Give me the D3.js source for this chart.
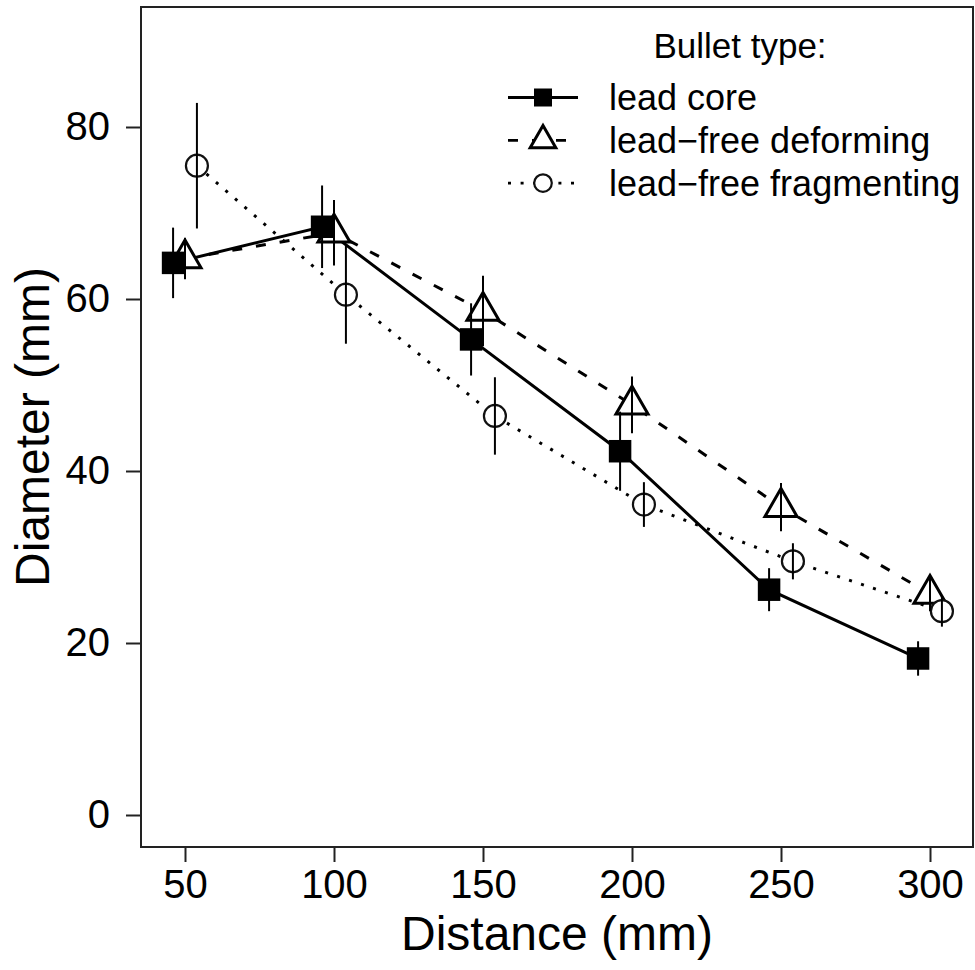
<!DOCTYPE html>
<html>
<head>
<meta charset="utf-8">
<script src="https://cdn.jsdelivr.net/npm/d3@7"></script>
<style>
  body { margin: 0; background: #fff; }
  svg { display: block; font-family: "Liberation Sans", Arial, sans-serif; }
</style>
</head>
<body>
<div id="chart"></div>
<script>
// data: mean diameter and error (half length of bar)
const distance = [50, 100, 150, 200, 250, 300];
const yTicks = [0, 20, 40, 60, 80];

const leadCore = [64.2, 68.4, 55.3, 42.3, 26.2, 18.2];
const leadCoreErr = [4.1, 4.8, 4.2, 4.6, 2.5, 2.0];

const deforming = [64.7, 67.7, 58.6, 47.7, 35.8, 25.7];
const deformingErr = [2.4, 3.8, 4.1, 3.3, 2.8, 2.0];

const fragmenting = [75.5, 60.5, 46.4, 36.1, 29.5, 23.7];
const fragmentingErr = [7.3, 5.7, 4.5, 2.6, 2.1, 1.8];

const seriesNames = ["lead core", "lead\u2212free deforming", "lead\u2212free fragmenting"];
const dodge = [-4, 0, 4];   // small horizontal offset so the groups don't overlap

(function () {
    const width = 975, height = 970;
    const box = { left: 141, right: 973, top: 7, bottom: 847 };

    const svg = d3.select("#chart").append("svg")
        .attr("width", width)
        .attr("height", height);

    // scales
    const x = d3.scaleLinear().domain([50, 300]).range([185, 930]);
    const y = d3.scaleLinear().domain([0, 80]).range([815, 127]);

    const series = [
        { name: seriesNames[0], values: leadCore, err: leadCoreErr, shape: "square", dash: null },
        { name: seriesNames[1], values: deforming, err: deformingErr, shape: "triangle", dash: "10,14" },
        { name: seriesNames[2], values: fragmenting, err: fragmentingErr, shape: "circle", dash: "3,9.6" }
    ];
    series.forEach((s, k) => {
        s.points = distance.map((d, i) => ({ x: d + dodge[k], v: s.values[i], e: s.err[i] }));
    });

    // triangle like R pch 2, centred on the point
    function triPath(cx, cy, r) {
        return `M${cx},${cy - 1.555 * r}L${cx + 1.347 * r},${cy + 0.778 * r}L${cx - 1.347 * r},${cy + 0.778 * r}Z`;
    }

    function drawMarker(g, shape, cx, cy, scale) {
        if (shape === "square") {
            const s = 22.5 * scale;
            g.append("rect").attr("x", cx - s / 2).attr("y", cy - s / 2)
                .attr("width", s).attr("height", s).attr("fill", "#000");
        } else if (shape === "triangle") {
            g.append("path").attr("d", triPath(cx, cy, 11.9 * scale))
                .attr("fill", "#fff").attr("stroke", "#000").attr("stroke-width", 3)
                .attr("stroke-linejoin", "miter");
        } else {
            g.append("circle").attr("cx", cx).attr("cy", cy).attr("r", 11 * scale)
                .attr("fill", "#fff").attr("stroke", "#111").attr("stroke-width", 2.2);
        }
    }

    // lines
    const line = d3.line().x(d => x(d.x)).y(d => y(d.v));
    svg.append("g").selectAll("path")
        .data(series)
        .enter().append("path")
        .attr("d", d => line(d.points))
        .attr("fill", "none")
        .attr("stroke", "#000")
        .attr("stroke-width", 3)
        .attr("stroke-dasharray", d => d.dash);

    // markers: triangles, then circles, then squares on top
    const markerG = svg.append("g");
    [1, 2, 0].forEach(k => {
        series[k].points.forEach(p => drawMarker(markerG, series[k].shape, x(p.x), y(p.v), 1));
    });

    // error bars
    const errG = svg.append("g");
    series.forEach(s => {
        errG.selectAll(null)
            .data(s.points)
            .enter().append("line")
            .attr("x1", d => x(d.x)).attr("x2", d => x(d.x))
            .attr("y1", d => y(d.v - d.e)).attr("y2", d => y(d.v + d.e))
            .attr("stroke", "#000")
            .attr("stroke-width", 2);
    });

    // box
    svg.append("rect")
        .attr("x", box.left).attr("y", box.top)
        .attr("width", box.right - box.left).attr("height", box.bottom - box.top)
        .attr("fill", "none").attr("stroke", "#222").attr("stroke-width", 2);

    // axes
    const xAxis = svg.append("g")
        .attr("transform", `translate(0,${box.bottom})`)
        .call(d3.axisBottom(x).tickValues(distance).tickSize(15).tickSizeOuter(0).tickPadding(8));
    const yAxis = svg.append("g")
        .attr("transform", `translate(${box.left},0)`)
        .call(d3.axisLeft(y).tickValues(yTicks).tickSize(15).tickSizeOuter(0).tickPadding(16));

    [xAxis, yAxis].forEach(a => {
        a.select(".domain").remove();
        a.selectAll(".tick line").attr("stroke", "#222").attr("stroke-width", 2);
        a.selectAll(".tick text")
            .attr("fill", "#000")
            .style("font-size", "40px")
            .style("font-family", "'Liberation Sans', Arial, sans-serif");
    });

    // axis titles
    svg.append("text")
        .attr("x", (box.left + box.right) / 2)
        .attr("y", 950)
        .attr("text-anchor", "middle")
        .style("font-size", "48px")
        .text("Distance (mm)");

    svg.append("text")
        .attr("transform", `translate(49,${(box.top + box.bottom) / 2}) rotate(-90)`)
        .attr("text-anchor", "middle")
        .style("font-size", "48px")
        .text("Diameter (mm)");

    // legend
    const legend = svg.append("g");
    legend.append("text")
        .attr("x", 740).attr("y", 58)
        .attr("text-anchor", "middle")
        .style("font-size", "35px")
        .text("Bullet type:");

    const rows = legend.selectAll(".legend-row")
        .data(series)
        .enter().append("g")
        .attr("class", "legend-row")
        .attr("transform", (d, i) => `translate(0,${97.5 + i * 42.8})`);

    rows.append("line")
        .attr("x1", 508).attr("x2", 578)
        .attr("stroke", "#000").attr("stroke-width", 2.8)
        .attr("stroke-dasharray", d => d.dash);

    rows.each(function (d) {
        drawMarker(d3.select(this), d.shape, 543, 0, 0.8);
    });

    rows.append("text")
        .attr("x", 609).attr("y", 12.5)
        .style("font-size", "36px")
        .text(d => d.name);
})();
</script>
</body>
</html>
